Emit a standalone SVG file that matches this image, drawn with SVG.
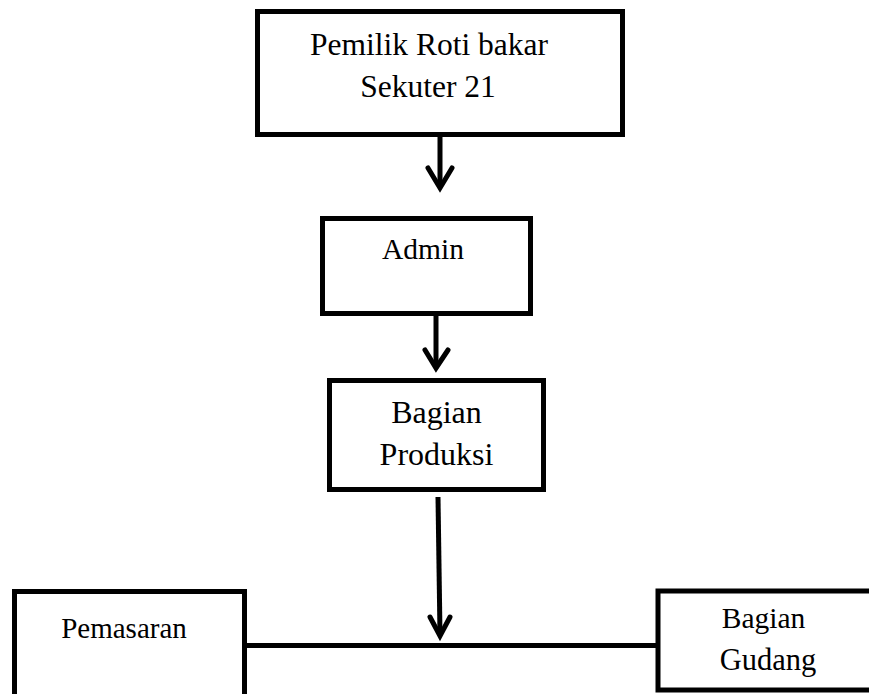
<svg xmlns="http://www.w3.org/2000/svg" width="869" height="694" viewBox="0 0 869 694">
<style>
.box{fill:#fff;stroke:#000;stroke-width:5}
.t{font-family:"Liberation Serif","Times New Roman",serif;fill:#000;text-anchor:middle}
.c{fill:none;stroke:#000;stroke-width:5}
.h{fill:none;stroke:#000;stroke-width:5;stroke-linecap:round;stroke-linejoin:miter}
</style>
<rect width="869" height="694" fill="#fff"/>
<g id="connectors">
<line class="c" x1="440" y1="137" x2="440" y2="186"/>
<polyline class="h" points="428,168 440,188 452,168"/>
<line class="c" x1="436" y1="316" x2="436" y2="366"/>
<polyline class="h" points="425,350 436,368 448,350"/>
<line class="c" x1="438" y1="497" x2="440" y2="634"/>
<polyline class="h" points="430,617 440,636 450,617"/>
<line class="c" x1="245" y1="645.5" x2="657" y2="645.5"/>
</g>
<g id="pemilik">
<rect class="box" x="257.5" y="11.5" width="365" height="123"/>
<text class="t" x="429" y="55" font-size="31.5">Pemilik Roti bakar</text>
<text class="t" x="428" y="97" font-size="31.5">Sekuter 21</text>
</g>
<g id="admin">
<rect class="box" x="322.5" y="218.5" width="208" height="95"/>
<text class="t" x="423" y="259" font-size="29.5">Admin</text>
</g>
<g id="produksi">
<rect class="box" x="329.5" y="380.5" width="214" height="109"/>
<text class="t" x="436.5" y="423" font-size="32">Bagian</text>
<text class="t" x="436.5" y="465" font-size="32">Produksi</text>
</g>
<g id="pemasaran">
<rect class="box" x="14.5" y="591.5" width="230" height="120"/>
<text class="t" x="124" y="638" font-size="29">Pemasaran</text>
</g>
<g id="gudang">
<rect class="box" x="658" y="591" width="240" height="99"/>
<text class="t" x="763.5" y="628" font-size="29.5">Bagian</text>
<text class="t" x="768" y="670" font-size="30.5">Gudang</text>
</g>
</svg>
